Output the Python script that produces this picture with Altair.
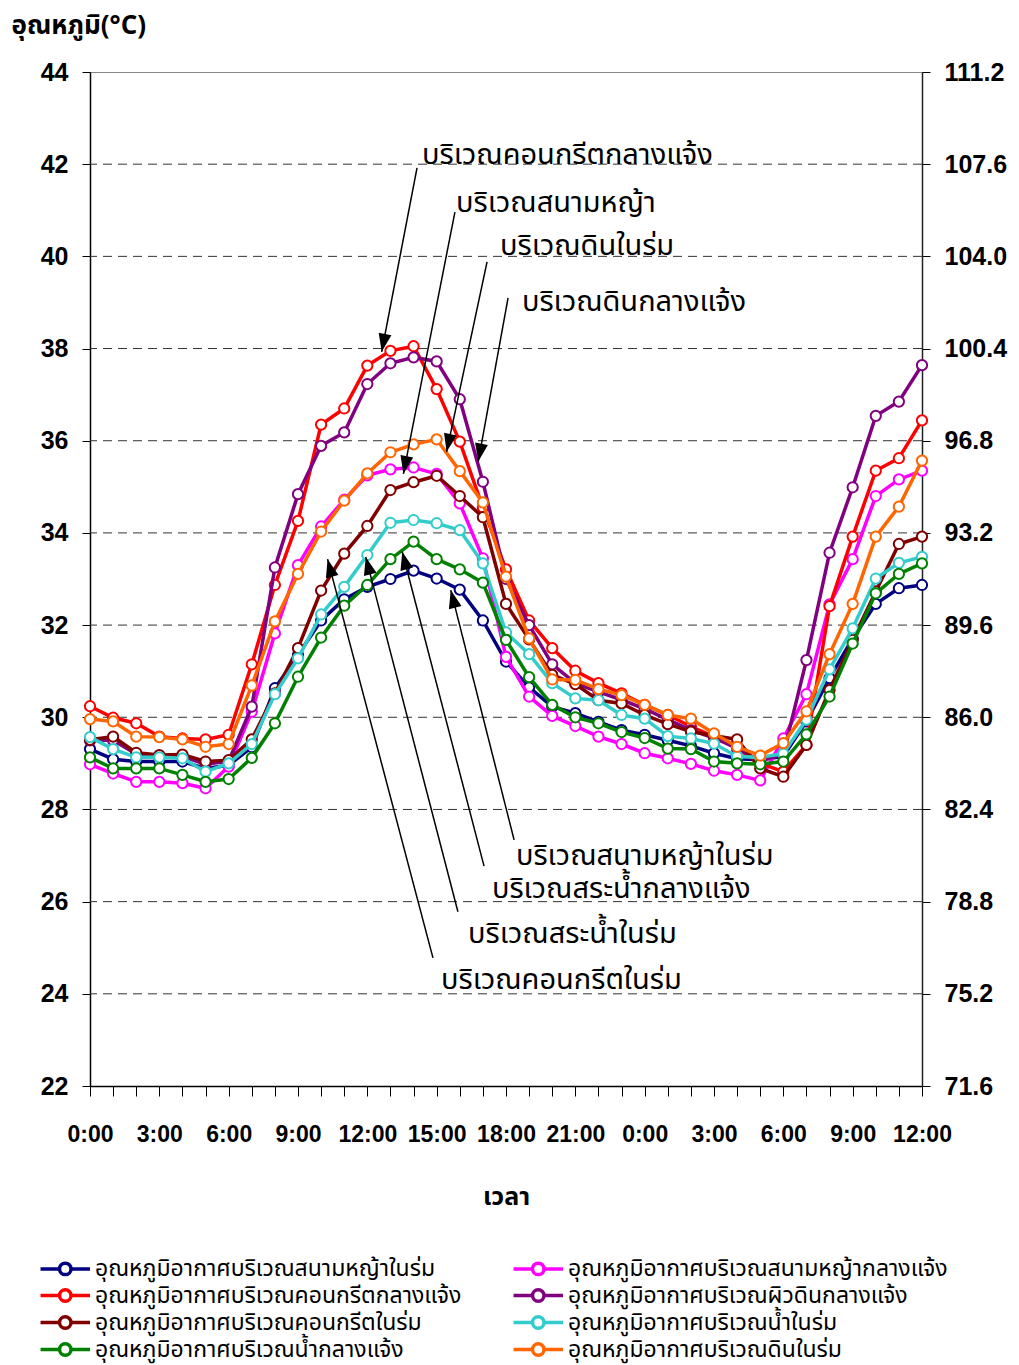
import math
import altair as alt
import pandas as pd

# ---- axis ticks and labels ----
HOURS = list(range(37))
X_TICK_LABELS = ["0:00", "3:00", "6:00", "9:00", "12:00", "15:00", "18:00",
                 "21:00", "0:00", "3:00", "6:00", "9:00", "12:00"]
C_TICKS = [22, 24, 26, 28, 30, 32, 34, 36, 38, 40, 42, 44]
F_LABELS = ["71.6", "75.2", "78.8", "82.4", "86.0", "89.6", "93.2", "96.8",
            "100.4", "104.0", "107.6", "111.2"]

# ---- series (hourly air temperature, deg C) ----
SERIES_NAMES = [
    "อุณหภูมิอากาศบริเวณสนามหญ้าในร่ม",
    "อุณหภูมิอากาศบริเวณสนามหญ้ากลางแจ้ง",
    "อุณหภูมิอากาศบริเวณคอนกรีตกลางแจ้ง",
    "อุณหภูมิอากาศบริเวณผิวดินกลางแจ้ง",
    "อุณหภูมิอากาศบริเวณคอนกรีตในร่ม",
    "อุณหภูมิอากาศบริเวณน้ำในร่ม",
    "อุณหภูมิอากาศบริเวณน้ำกลางแจ้ง",
    "อุณหภูมิอากาศบริเวณดินในร่ม",
]
SERIES_COLORS = ["#000080", "#FF00FF", "#FF0000", "#800080",
                 "#800000", "#33CCCC", "#008000", "#FF6600"]

grass_shade = [29.31, 29.09, 29.04, 29.04, 29.04, 28.89, 28.96, 29.35, 30.63, 31.35,
               32.10, 32.56, 32.83, 33.00, 33.18, 33.01, 32.77, 32.10, 31.21, 30.65,
               30.23, 30.09, 29.90, 29.72, 29.62, 29.50, 29.38, 29.22, 29.10, 29.08,
               29.15, 29.91, 30.85, 31.71, 32.46, 32.80, 32.87]
grass_open = [28.98, 28.78, 28.60, 28.60, 28.57, 28.46, 28.93, 30.12, 31.82, 33.30,
              34.14, 34.72, 35.25, 35.38, 35.42, 35.28, 34.64, 33.45, 31.31, 30.45,
              30.03, 29.81, 29.58, 29.42, 29.22, 29.11, 28.99, 28.84, 28.75, 28.63,
              29.54, 30.50, 32.45, 33.43, 34.80, 35.16, 35.35]
concrete_open = [30.24, 29.99, 29.87, 29.58, 29.54, 29.52, 29.62, 31.15, 32.87, 34.26,
                 36.35, 36.70, 37.63, 37.95, 38.05, 37.12, 35.98, 34.55, 33.21, 32.10,
                 31.50, 31.01, 30.74, 30.52, 30.27, 30.05, 29.80, 29.58, 29.32, 29.00,
                 28.82, 29.40, 32.41, 33.92, 35.35, 35.62, 36.44]
soil_surface_open = [29.50, 29.50, 29.20, 29.15, 29.15, 28.98, 29.05, 30.23, 33.25, 34.84,
                     35.89, 36.18, 37.23, 37.68, 37.81, 37.72, 36.90, 35.11, 33.00, 32.00,
                     31.15, 30.74, 30.55, 30.38, 30.18, 29.95, 29.72, 29.55, 29.33, 29.05,
                     29.20, 31.24, 33.57, 34.99, 36.54, 36.85, 37.64]
concrete_shade = [29.51, 29.58, 29.23, 29.18, 29.19, 29.04, 29.07, 29.52, 30.52, 31.50,
                  32.75, 33.55, 34.15, 34.93, 35.10, 35.24, 34.80, 34.34, 32.46, 31.69,
                  30.92, 30.72, 30.37, 30.30, 30.05, 29.85, 29.69, 29.60, 29.52, 28.89,
                  28.71, 29.40, 30.59, 31.68, 32.73, 33.76, 33.92]
water_shade = [29.57, 29.31, 29.13, 29.13, 29.11, 28.82, 29.00, 29.42, 30.50, 31.28,
               32.23, 32.83, 33.52, 34.22, 34.28, 34.21, 34.06, 33.34, 31.84, 31.37,
               30.74, 30.41, 30.37, 30.05, 29.97, 29.59, 29.54, 29.43, 29.15, 29.13,
               29.21, 29.95, 31.04, 31.93, 33.01, 33.35, 33.48]
water_open = [29.13, 28.89, 28.89, 28.89, 28.75, 28.60, 28.66, 29.12, 29.87, 30.88,
              31.73, 32.42, 32.87, 33.43, 33.81, 33.43, 33.21, 32.92, 31.68, 30.87,
              30.27, 30.00, 29.87, 29.68, 29.55, 29.32, 29.31, 29.04, 29.00, 28.98,
              29.04, 29.63, 30.45, 31.60, 32.69, 33.11, 33.34]
soil_shade = [29.96, 29.91, 29.58, 29.57, 29.52, 29.36, 29.42, 30.69, 32.08, 33.11,
              34.03, 34.70, 35.29, 35.75, 35.92, 36.03, 35.34, 34.66, 33.05, 31.71,
              30.82, 30.81, 30.61, 30.48, 30.27, 30.05, 29.97, 29.65, 29.36, 29.17,
              29.44, 30.13, 31.37, 32.46, 33.92, 34.57, 35.57]

SERIES_VALUES = [grass_shade, grass_open, concrete_open, soil_surface_open,
                 concrete_shade, water_shade, water_open, soil_shade]

# ---- callouts: label text, label anchor, arrow tail, arrow tip (hour, deg C) ----
NOTE_TEXT = ["บริเวณคอนกรีตกลางแจ้ง", "บริเวณสนามหญ้า", "บริเวณดินในร่ม",
             "บริเวณดินกลางแจ้ง", "บริเวณสนามหญ้าในร่ม", "บริเวณสระน้ำกลางแจ้ง",
             "บริเวณสระน้ำในร่ม", "บริเวณคอนกรีตในร่ม"]
NOTE_X = [14.37, 15.84, 17.74, 18.69, 18.43, 17.39, 16.36, 15.19]
NOTE_Y = [42.20, 41.16, 40.22, 39.01, 26.99, 26.27, 25.30, 24.30]
TAIL_X = [14.15, 15.79, 17.18, 18.09, 18.35, 17.05, 15.92, 14.84]
TAIL_Y = [41.92, 40.96, 39.88, 39.10, 27.34, 26.77, 25.78, 24.78]
TIP_X = [12.62, 13.56, 15.43, 16.80, 15.61, 13.51, 11.93, 10.28]
TIP_Y = [37.93, 35.28, 35.76, 35.55, 32.76, 33.59, 33.48, 33.43]

W, H = 832, 1014
X_DOM = [0, 36]
Y_DOM = [22, 44]
PX_PER_HOUR = W / (X_DOM[1] - X_DOM[0])
PX_PER_DEG = H / (Y_DOM[1] - Y_DOM[0])

NUM_FONT = "Liberation Sans"
THAI_FONT = "Noto Sans Thai, Loma, Garuda, Norasi, Tahoma, sans-serif"

rows = []
for name, vals in zip(SERIES_NAMES, SERIES_VALUES):
    for h, v in zip(HOURS, vals):
        rows.append({"series": name, "hour": h, "temp": v})
df = pd.DataFrame(rows)

notes = []
for t, nx, ny, tx, ty, px, py in zip(NOTE_TEXT, NOTE_X, NOTE_Y, TAIL_X, TAIL_Y, TIP_X, TIP_Y):
    dx = (px - tx) * PX_PER_HOUR
    dy_down = -(py - ty) * PX_PER_DEG
    ang = math.degrees(math.atan2(dx, -dy_down)) % 360
    notes.append({"text": t, "nx": nx, "ny": ny, "tx": tx, "ty": ty,
                  "px": px, "py": py, "angle": ang})
notes_df = pd.DataFrame(notes)

x_label_expr = ("datum.value % 3 == 0 ? " + str(X_TICK_LABELS) +
                "[round(datum.value / 3)] : ''")
f_label_expr = str(F_LABELS) + "[round((datum.value - 22) / 2)]"

x_axis = alt.Axis(values=HOURS, labelExpr=x_label_expr, title="เวลา",
                  tickSize=10, tickColor="#000", domainColor="#000", domainWidth=1.5,
                  grid=False, labelOverlap=False, labelFlush=False,
                  labelFont=NUM_FONT, labelFontSize=23, labelFontWeight="bold",
                  labelColor="#000", labelPadding=27,
                  titleFont=THAI_FONT, titleFontSize=25, titleFontWeight="bold",
                  titleColor="#000", titleY=110, titleBaseline="middle")
x_scale = alt.Scale(domain=X_DOM, nice=False, zero=False)
y_scale = alt.Scale(domain=Y_DOM, nice=False, zero=False)

left_axis = alt.Axis(values=C_TICKS, format="d", grid=False, tickSize=8,
                     tickColor="#000", domainColor="#000", domainWidth=1.5,
                     labelFont=NUM_FONT, labelFontSize=25, labelFontWeight="bold",
                     labelColor="#000", labelPadding=14,
                     title="อุณหภูมิ(°C)", titleAngle=0, titleAlign="left",
                     titleBaseline="middle", titleX=-79, titleY=-47,
                     titleFont=THAI_FONT, titleFontSize=26, titleFontWeight="bold",
                     titleColor="#000")
right_axis = alt.Axis(values=C_TICKS, orient="right", labelExpr=f_label_expr,
                      grid=False, tickSize=8, tickColor="#000", domainColor="#222",
                      domainWidth=1.5, labelFont=NUM_FONT, labelFontSize=25,
                      labelFontWeight="bold", labelColor="#000", labelPadding=14,
                      title=None)

color_scale = alt.Scale(domain=SERIES_NAMES, range=SERIES_COLORS)
# line-with-open-circle legend key; the path runs left of the nominal symbol box
legend_symbol = ("M-3.3,0H-1.65M-0.65,0H1M-0.65,0A0.5,0.5,0,1,1,-1.65,0"
                 "A0.5,0.5,0,1,1,-0.65,0")
legend = alt.Legend(title=None, orient="none", legendX=-25, legendY=1183,
                    direction="horizontal", columns=2, columnPadding=44,
                    rowPadding=0, symbolType=legend_symbol, symbolSize=529,
                    symbolStrokeWidth=3.5, symbolFillColor="white",
                    labelFont=THAI_FONT, labelFontSize=23, labelColor="#000",
                    labelLimit=600, labelOffset=3)

# dashed horizontal gridlines, carrying the Fahrenheit axis on the right
grid = alt.Chart(pd.DataFrame({"t": C_TICKS[1:-1]})).mark_rule(
    color="#333", strokeWidth=1, strokeDash=[9, 6]
).encode(y=alt.Y("t:Q", scale=y_scale, axis=right_axis))

layers = [grid]
for i, name in enumerate(SERIES_NAMES):
    base = alt.Chart(df).transform_filter(alt.datum.series == name)
    line = base.mark_line(strokeWidth=3.5).encode(
        x=alt.X("hour:Q", scale=x_scale, axis=x_axis),
        y=alt.Y("temp:Q", scale=y_scale, axis=left_axis if i == 0 else None),
        color=alt.Color("series:N", scale=color_scale,
                        legend=legend if i == 0 else None),
    )
    pts = base.mark_point(filled=True, fill="white", size=105, strokeWidth=2,
                          opacity=1).encode(
        x=alt.X("hour:Q", scale=x_scale, axis=x_axis),
        y=alt.Y("temp:Q", scale=y_scale, axis=None),
        stroke=alt.Stroke("series:N", scale=color_scale, legend=None),
    )
    layers += [line, pts]

arrows = alt.Chart(notes_df).mark_rule(color="#000", strokeWidth=1.5).encode(
    x=alt.X("tx:Q", scale=x_scale, axis=x_axis),
    y=alt.Y("ty:Q", scale=y_scale, axis=None),
    x2="px:Q", y2="py:Q",
)
heads = alt.Chart(notes_df).mark_point(
    shape="M0,0L-0.36,1L0.36,1Z", size=1300, filled=True, color="#000", opacity=1
).encode(
    x=alt.X("px:Q", scale=x_scale, axis=x_axis),
    y=alt.Y("py:Q", scale=y_scale, axis=None),
    angle=alt.Angle("angle:Q", scale=None),
)
labels = alt.Chart(notes_df).mark_text(
    align="left", baseline="middle", font=THAI_FONT, fontSize=29, color="#000"
).encode(
    x=alt.X("nx:Q", scale=x_scale, axis=x_axis),
    y=alt.Y("ny:Q", scale=y_scale, axis=None),
    text="text:N",
)
layers += [arrows, heads, labels]

chart = alt.layer(*layers).resolve_axis(y="independent").properties(
    width=W, height=H,
    autosize=alt.AutoSizeParams(type="none"),
    padding={"left": 90, "top": 72, "right": 97, "bottom": 279},
    background="white",
).configure_view(stroke="#888", strokeWidth=1)

chart.save("out.html", embed_options={"renderer": "svg", "actions": False})
